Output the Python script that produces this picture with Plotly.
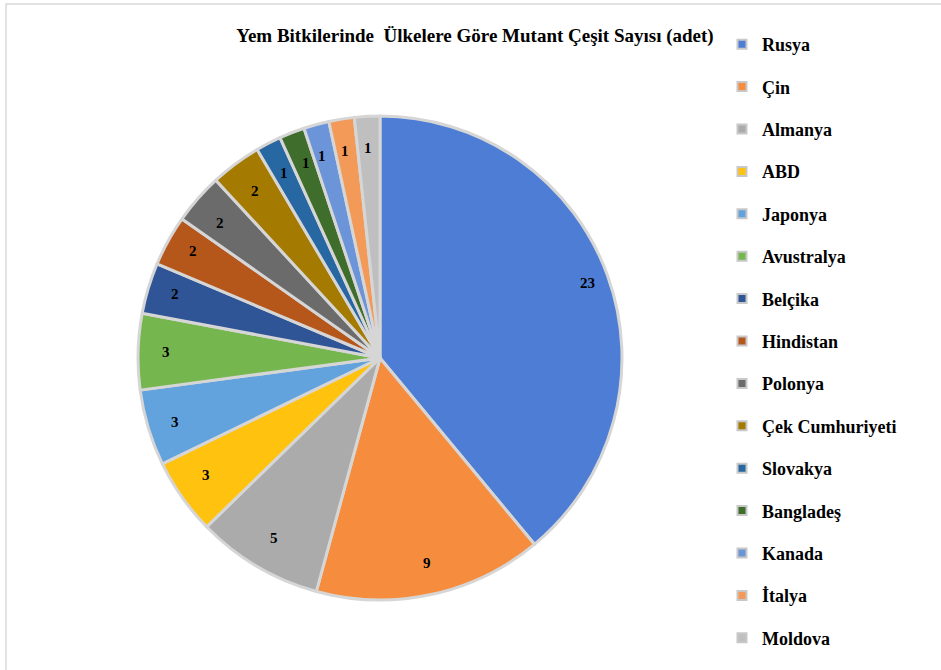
import math
import plotly.graph_objects as go

# ---- data ----
countries = ["Rusya", "Çin", "Almanya", "ABD", "Japonya", "Avustralya", "Belçika",
             "Hindistan", "Polonya", "Çek Cumhuriyeti", "Slovakya", "Bangladeş",
             "Kanada", "İtalya", "Moldova"]
counts = [23, 9, 5, 3, 3, 3, 2, 2, 2, 2, 1, 1, 1, 1, 1]
colors = ["#4D7DD5", "#F68D3E", "#ABABAB", "#FFC20E", "#62A3DD", "#76B64F", "#2F5597",
          "#B5561B", "#6B6B6B", "#A47A00", "#2767A2", "#3F6D2B", "#6C94D9", "#F49A58",
          "#BFBFBF"]
title_text = "Yem Bitkilerinde  Ülkelere Göre Mutant Çeşit Sayısı (adet)"

W, H = 941, 670
SERIF = "'Times New Roman', 'Liberation Serif', serif"

# pie placement (pixels)
cx, cy, r = 380, 358, 242
dom_x = [(cx - r) / W, (cx + r) / W]
dom_y = [1 - (cy + r) / H, 1 - (cy - r) / H]

fig = go.Figure()
fig.add_trace(go.Pie(
    labels=countries, values=counts, sort=False, direction="clockwise", rotation=0,
    marker=dict(colors=colors, line=dict(color="#D6D6D6", width=3)),
    textinfo="none", showlegend=False, domain=dict(x=dom_x, y=dom_y),
    hovertemplate="%{label}: %{value}<extra></extra>",
))

# legend entries
for name, col in zip(countries, colors):
    fig.add_trace(go.Scatter(
        x=[None], y=[None], mode="markers", name=name, legendgroup=name,
        marker=dict(symbol="square", size=9, color=col, line=dict(color="#C8C8C8", width=2)),
    ))

# value labels, placed along each slice bisector near the rim
total = sum(counts)
cum = 0
annotations = []
for v in counts:
    mid = (cum + v / 2) / total
    ang = math.radians(90 - 360 * mid)
    px = cx + 0.91 * r * math.cos(ang)
    py = cy - 0.91 * r * math.sin(ang)
    annotations.append(dict(
        x=px / W, y=1 - py / H, xref="paper", yref="paper", text=str(v),
        showarrow=False, font=dict(family=SERIF, size=15, color="#000000", weight="bold"),
    ))
    cum += v

fig.update_layout(
    width=W, height=H,
    margin=dict(l=0, r=0, t=0, b=0),
    paper_bgcolor="white", plot_bgcolor="white",
    title=dict(text=title_text, x=475 / W, xanchor="center",
               y=1 - 35 / H, yanchor="middle",
               font=dict(family=SERIF, size=19, color="#000000", weight="bold")),
    xaxis=dict(visible=False), yaxis=dict(visible=False),
    legend=dict(x=722 / W, xanchor="left", y=1 - 26 / H, yanchor="top",
                font=dict(family=SERIF, size=18, color="#000000", weight="bold"),
                tracegroupgap=16, itemclick=False, bgcolor="rgba(0,0,0,0)"),
    annotations=annotations,
    shapes=[dict(type="rect", xref="paper", yref="paper",
                 x0=6 / W, x1=1.02, y0=-0.02, y1=1 - 4 / H,
                 line=dict(color="#D9D9D9", width=1.5))],
)

fig.write_html("out.html")
